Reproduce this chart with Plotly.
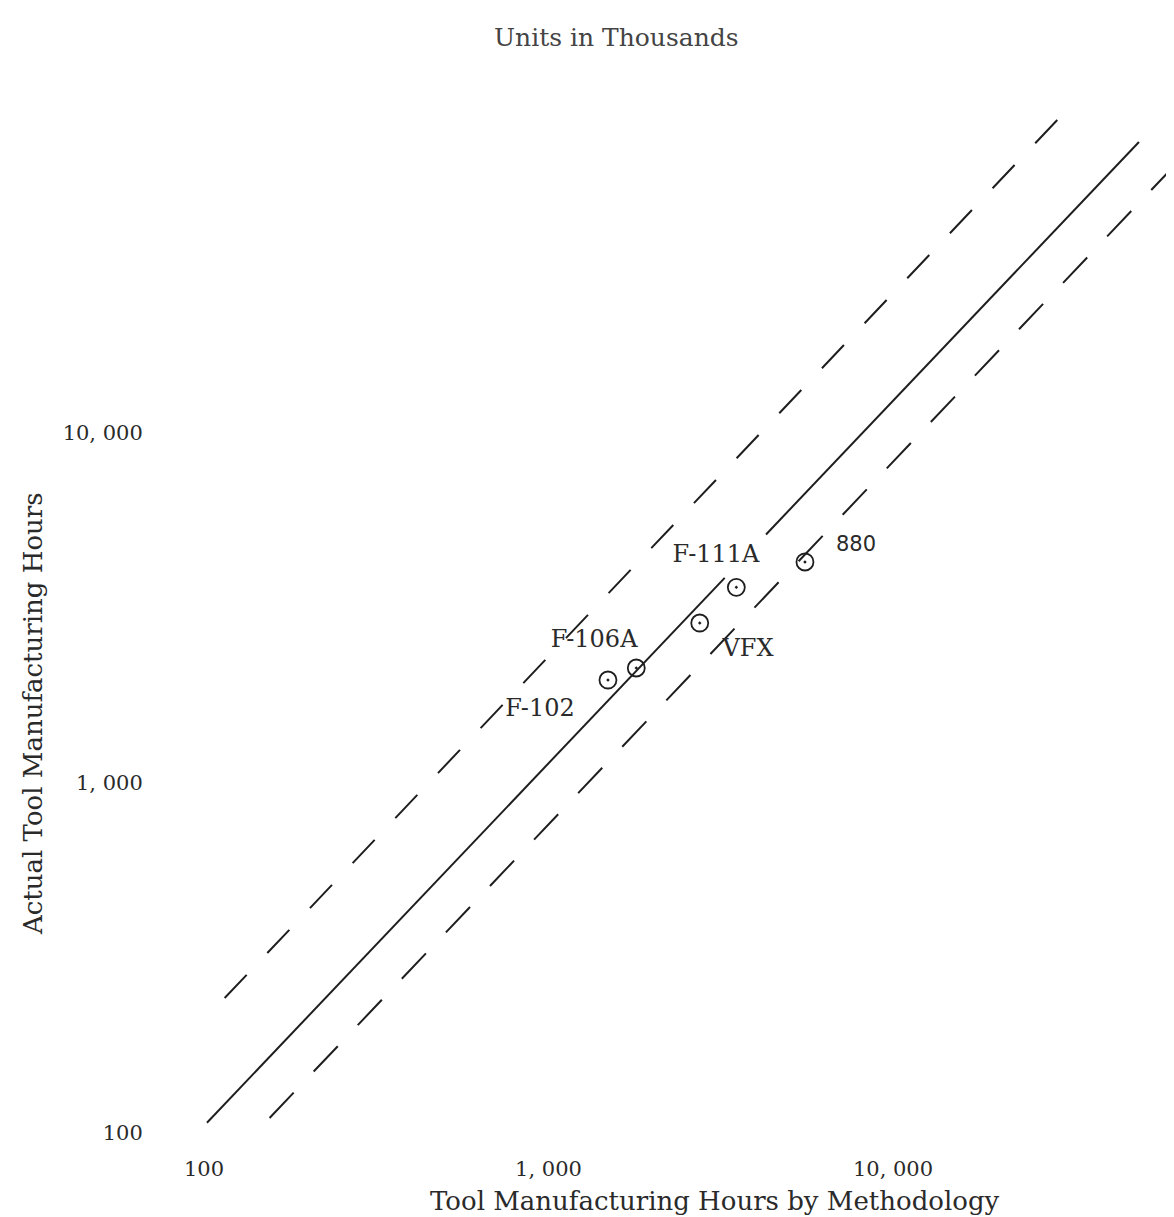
import numpy as np
import plotly.graph_objects as go

# ---- data ----
programs = ["F-102", "F-106A", "VFX", "F-111A", "880"]
method_hours = [1488, 1798, 2748, 3509, 5552]      # x: tool mfg hours by methodology (thousands)
actual_hours = [1969, 2131, 2865, 3623, 4280]      # y: actual tool mfg hours (thousands)

# label anchor points for the program names
label_x = [945, 1356, 3794, 3063, 7807]
label_y = [1617, 2545, 2399, 4453, 4754]

# fitted (solid) line, broken where it passes the F-111A label
fit_x = [102, 3247, None, 4280, 51760]
fit_y = [107, 3855, None, 5130, 67830]
# upper and lower bound (dashed) lines
upper_x = [114.8, 31150]
upper_y = [243, 81550]
lower_x = [155, 65870]
lower_y = [110.4, 58310]

tick_vals = [100, 1000, 10000]
tick_text = ["100", "1, 000", "10, 000"]

title_text = "Units in Thousands"
x_title = "Tool Manufacturing Hours by Methodology"
y_title = "Actual Tool Manufacturing Hours"

INK = "#1e1e1e"
TXT = "#2a2a2a"
SERIF = "DejaVu Serif, serif"
SANS = "DejaVu Sans, sans-serif"

fig = go.Figure()
fig.add_trace(go.Scatter(x=fit_x, y=fit_y, mode="lines",
                         line=dict(color=INK, width=2), connectgaps=False,
                         hoverinfo="skip", showlegend=False))
fig.add_trace(go.Scatter(x=upper_x, y=upper_y, mode="lines",
                         line=dict(color=INK, width=2, dash="32px,30px"),
                         hoverinfo="skip", showlegend=False))
fig.add_trace(go.Scatter(x=lower_x, y=lower_y, mode="lines",
                         line=dict(color=INK, width=2, dash="35px,29px"),
                         hoverinfo="skip", showlegend=False))
fig.add_trace(go.Scatter(x=method_hours, y=actual_hours, mode="markers",
                         marker=dict(symbol="circle-open-dot", size=17,
                                     color=INK, line=dict(width=1.8, color=INK)),
                         text=programs, showlegend=False))

fonts = [SERIF, SERIF, SERIF, SERIF, SANS]
sizes = [24, 24, 24, 24, 21]
for name, lx, ly, fnt, fs in zip(programs, label_x, label_y, fonts, sizes):
    fig.add_trace(go.Scatter(x=[lx], y=[ly], mode="text", text=[name],
                             textposition="middle center",
                             textfont=dict(family=fnt, size=fs, color=TXT),
                             hoverinfo="skip", showlegend=False))

# plot area in pixels: left 148, right 1174, top 60, bottom 1137
L, R, T, B = 148, 1174, 60, 1137
W, H = R - L, B - T
xr = [2 + (L - 196) / 344.5, 2 + (R - 196) / 344.5]
yr = [2 + (1125 - B) / 350, 2 + (1125 - T) / 350]

fig.update_xaxes(type="log", range=xr, tickvals=tick_vals, ticktext=tick_text,
                 showgrid=False, zeroline=False, showline=False,
                 ticks="outside", ticklen=5, tickcolor="rgba(0,0,0,0)",
                 tickfont=dict(family=SERIF, size=21, color=TXT))
fig.update_yaxes(type="log", range=yr, tickvals=tick_vals, ticktext=tick_text,
                 showgrid=False, zeroline=False, showline=False,
                 ticks="outside", ticklen=8, tickcolor="rgba(0,0,0,0)",
                 tickfont=dict(family=SERIF, size=21, color=TXT))

fig.add_annotation(text=title_text, xref="paper", yref="paper",
                   x=(608 - L) / W, y=(B - 30) / H, showarrow=False,
                   xanchor="center", yanchor="middle",
                   font=dict(family=SERIF, size=25, color="#444"))
fig.add_annotation(text=x_title, xref="paper", yref="paper",
                   x=(707 - L) / W, y=(B - 1193) / H, showarrow=False,
                   xanchor="center", yanchor="middle",
                   font=dict(family=SERIF, size=26, color=TXT))
fig.add_annotation(text=y_title, xref="paper", yref="paper",
                   x=(25 - L) / W, y=(B - 706) / H, showarrow=False,
                   textangle=-90, xanchor="center", yanchor="middle",
                   font=dict(family=SERIF, size=26, color=TXT))

fig.update_layout(width=1174, height=1217,
                  margin=dict(l=L, r=1174 - R, t=T, b=1217 - B),
                  paper_bgcolor="white", plot_bgcolor="white")

fig.write_html("out.html")
